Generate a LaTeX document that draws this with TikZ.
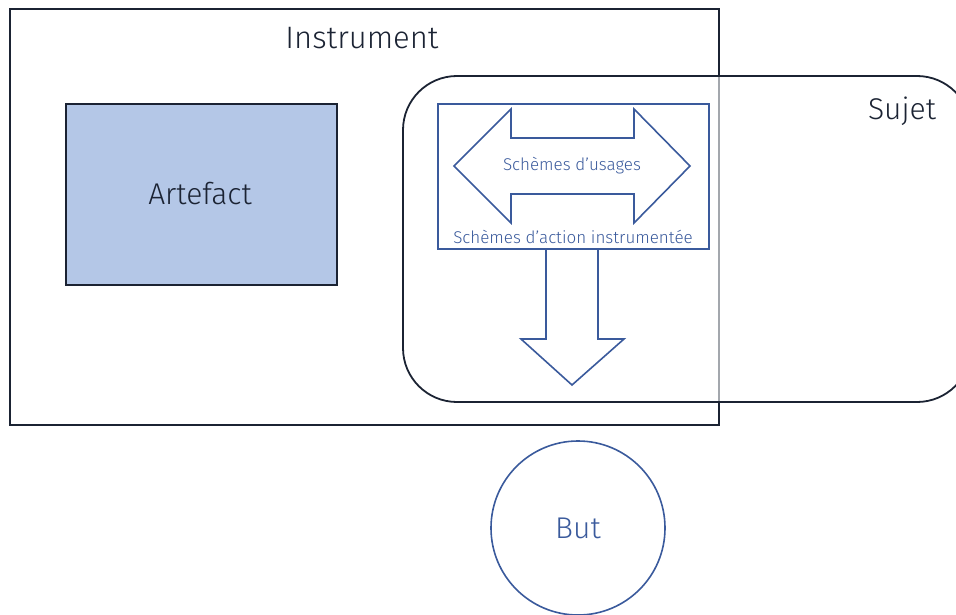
\documentclass[tikz,border=0pt]{standalone}
\usepackage{fontspec}
\setmainfont{Fira Sans}[UprightFont={* Light}]
\definecolor{dark}{HTML}{1B2333}
\definecolor{blueline}{HTML}{3A5A9C}
\definecolor{artfill}{HTML}{B4C7E7}
\begin{document}
\begin{tikzpicture}[x=1pt,y=-1pt,
  darkline/.style={draw=dark,line width=1.8pt},
  blueln/.style={draw=blueline,line width=1.6pt,line join=miter},
  lbl/.style={text=dark,inner sep=0pt,anchor=center}]
\useasboundingbox (0,0) rectangle (956,615);
% Instrument
\node[darkline,minimum width=709,minimum height=416,anchor=north west,inner sep=0pt] (instr) at (9,8) {};
\node[lbl,font=\fontsize{31}{31}\selectfont] (tinstr) at (362,38) {Instrument};
% Artefact
\node[darkline,fill=artfill,minimum width=271,minimum height=181,anchor=north west,inner sep=0pt] (art) at (65,103) {};
\node[lbl,font=\fontsize{30}{30}\selectfont] (tart) at (200,194) {Artefact};
% Sujet
\fill[white,opacity=0.6,rounded corners=54] (403,76) rectangle (971,402);
\draw[darkline,rounded corners=54] (403,76) rectangle (971,402);
\node[lbl,font=\fontsize{30}{30}\selectfont] (tsujet) at (902,111) {Sujet};
% blue box
\node[blueln,minimum width=271,minimum height=145,anchor=north west,inner sep=0pt] (sbox) at (437,103) {};
% double arrow
\draw[blueln] (454,166) -- (511,109) -- (511,138) -- (634,138) -- (634,109) -- (690,166) -- (634,223) -- (634,194) -- (511,194) -- (511,223) -- cycle;
\node[inner sep=0pt,text=blueline,font=\fontsize{17}{17}\selectfont] (tus) at (572,166) {Schèmes d’usages};
\node[inner sep=0pt,text=blueline,font=\fontsize{17}{17}\selectfont] (tact) at (573,237) {Schèmes d’action instrumentée};
% down arrow
\draw[blueln] (546,249) -- (546,339) -- (521,339) -- (572,385) -- (624,339) -- (598,339) -- (598,249);
% But
\node[circle,blueln,minimum size=174,inner sep=0pt] (but) at (578,528) {};
\node[inner sep=0pt,text=blueline,font=\fontsize{30}{30}\selectfont] (tbut) at (578,528) {But};
\end{tikzpicture}
\end{document}
